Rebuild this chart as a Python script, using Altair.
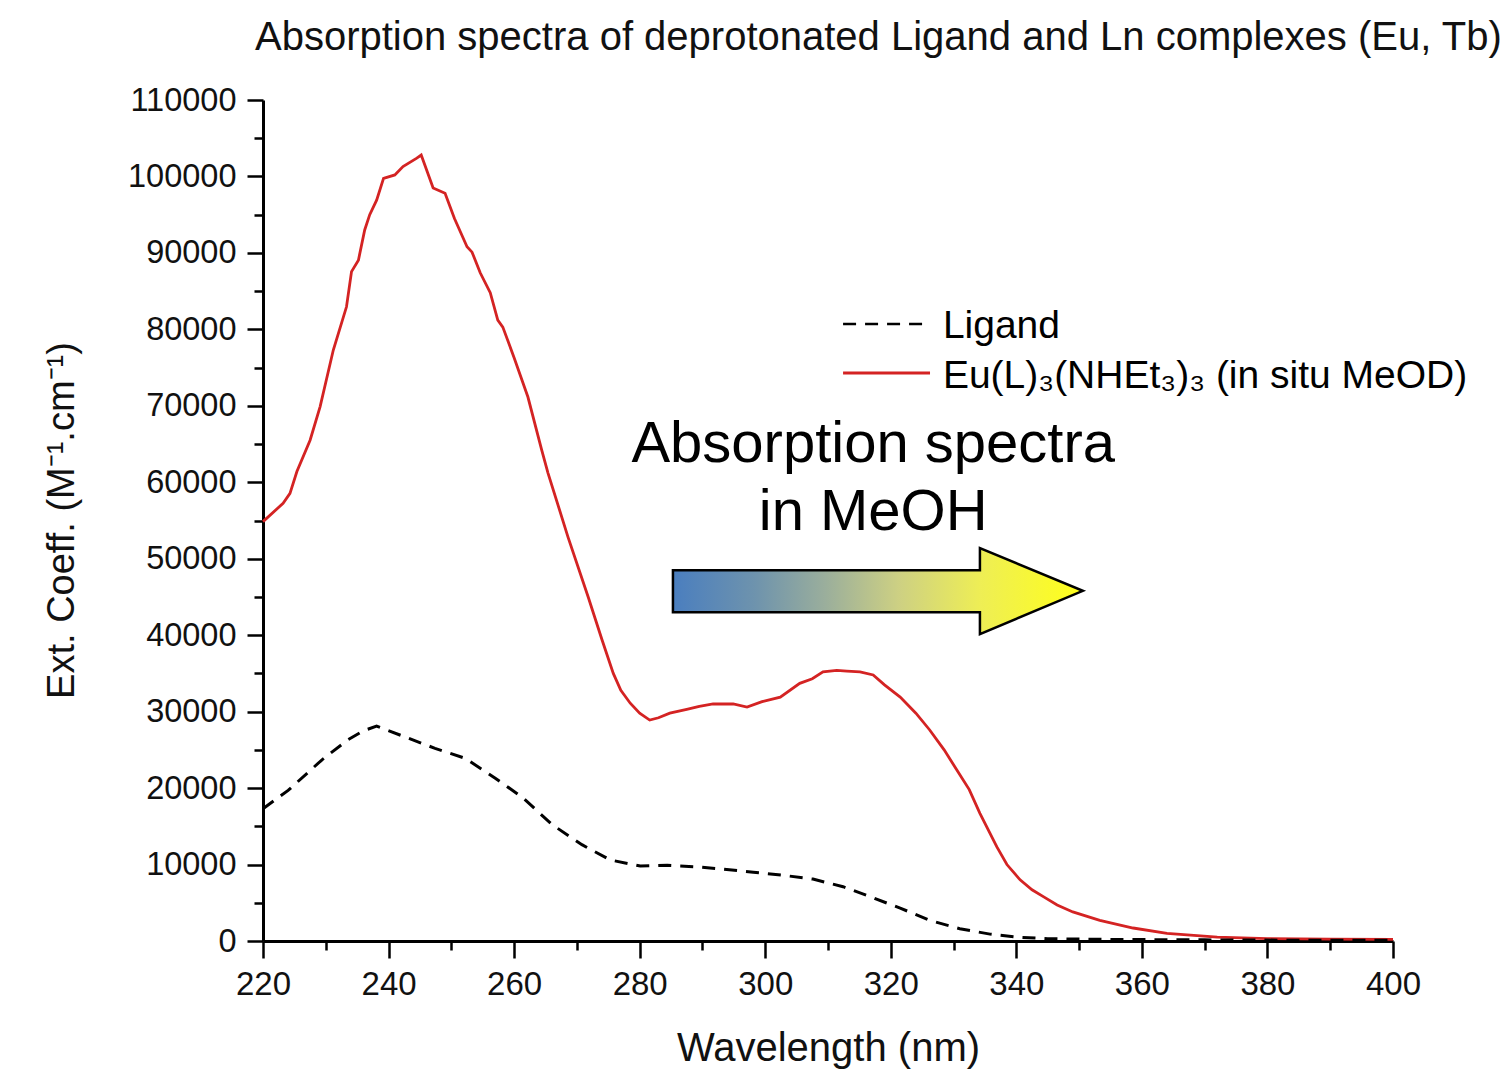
import altair as alt
import pandas as pd

# ---- data ----
eu_wl = [220.0, 223.2, 224.3, 225.4, 227.5, 229.1, 231.2, 233.3, 234.1, 235.2,
         236.2, 237.0, 238.1, 239.2, 241.0, 242.3, 244.5, 245.2, 247.1, 249.0,
         250.5, 252.5, 253.3, 254.6, 256.2, 257.4, 258.2, 260.0, 262.2, 264.4,
         265.4, 268.6, 271.8, 274.0, 275.8, 277.0, 278.5, 280.0, 281.6, 283.0,
         284.8, 287.5, 289.5, 291.7, 294.9, 297.1, 299.5, 302.4, 305.5, 307.5,
         309.2, 311.4, 313.0, 315.1, 317.2, 319.0, 321.5, 324.0, 326.2, 328.5,
         330.5, 332.5, 334.2, 336.9, 338.5, 340.6, 342.5, 344.3, 346.5, 349.0,
         353.3, 358.6, 364.0, 372.0, 380.0, 390.0, 400.0]
eu_val = [54850, 57250, 58550, 61400, 65500, 69900, 77300, 82950, 87550, 89050,
          93000, 95000, 96900, 99750, 100200, 101300, 102400, 102800, 98500, 97800,
          94500, 90800, 90100, 87400, 84800, 81200, 80300, 76300, 71150, 64200,
          61200, 52800, 45000, 39400, 35000, 32800, 31100, 29800, 28900, 29200,
          29800, 30300, 30700, 31000, 31000, 30600, 31300, 31900, 33700, 34300,
          35200, 35400, 35300, 35200, 34800, 33500, 31900, 29800, 27600, 25000,
          22400, 19800, 16700, 12300, 10000, 8000, 6700, 5800, 4700, 3800,
          2700, 1700, 1000, 500, 300, 250, 200]

lig_wl = [220.0, 224.0, 229.4, 233.5, 236.0, 238.1, 242.6, 247.4, 252.2, 257.0,
          261.3, 266.1, 270.8, 275.3, 280.1, 284.4, 289.1, 293.3, 298.1, 302.8,
          307.6, 312.4, 316.7, 321.5, 326.2, 331.0, 335.8, 340.1, 345.0, 355.0,
          370.0, 385.0, 400.0]
lig_val = [17300, 19700, 23700, 26300, 27500, 28100, 26700, 25200, 23900, 21300,
           18800, 15200, 12600, 10600, 9800, 9900, 9700, 9400, 9000, 8600,
           8100, 7100, 5800, 4300, 2700, 1600, 900, 500, 300, 200,
           150, 100, 100]

x_ticks = list(range(220, 401, 10))
y_ticks = list(range(0, 110001, 5000))

# annotation arrow (wavelength, top, bottom)
arrow_wl = [285.3, 334.2, 334.2, 350.6]
arrow_top = [48500, 48500, 51400, 45800]
arrow_bot = [43000, 43000, 40150, 45800]

note_lines = ["Absorption spectra", "in MeOH"]
note_wl = [317.2, 317.2]
note_val = [62650, 53760]

legend_labels = ["Ligand", "Eu(L)\u2083(NHEt\u2083)\u2083 (in situ MeOD)"]
legend_line_y = [80700, 74290]
legend_text_y = [78870, 72330]
legend_x0, legend_x1, legend_tx = 312.4, 326.25, 328.3

FONT = "Liberation Sans"
RED = "#d42323"
INK = "#111111"

eu_df = pd.DataFrame({"wl": eu_wl, "v": eu_val})
lig_df = pd.DataFrame({"wl": lig_wl, "v": lig_val})
arrow_df = pd.DataFrame({"wl": arrow_wl, "v": arrow_top, "v2": arrow_bot})
note_df = pd.DataFrame({"wl": note_wl, "v": note_val, "t": note_lines})

xs = alt.Scale(domain=[220, 400], nice=False, zero=False)
ys = alt.Scale(domain=[0, 110000], nice=False)

x_axis = alt.Axis(
    values=x_ticks, format="d", title="Wavelength (nm)",
    labelExpr="datum.value % 20 === 0 ? datum.label : ''",
    tickSize={"condition": {"test": "datum.value % 20 === 0", "value": 17}, "value": 9},
    labelOverlap=False, labelFlush=False, grid=False,
    domainColor="black", domainWidth=3, tickColor="black", tickWidth=2.5,
    labelFont=FONT, labelFontSize=33, labelColor=INK, labelPadding=10,
    titleFont=FONT, titleFontSize=40, titleFontWeight="normal", titleColor=INK,
    titleBaseline="alphabetic", titleY=119, titleX=565,
)
y_axis = alt.Axis(
    values=y_ticks, format="d", title="Ext. Coeff. (M\u207b\u00b9.cm\u207b\u00b9)",
    labelExpr="datum.value % 10000 === 0 ? datum.label : ''",
    tickSize={"condition": {"test": "datum.value % 10000 === 0", "value": 16}, "value": 9},
    labelOverlap=False, labelFlush=False, grid=False,
    domainColor="black", domainWidth=3, tickColor="black", tickWidth=2.5,
    labelFont=FONT, labelFontSize=32.5, labelColor=INK, labelPadding=11,
    titleFont=FONT, titleFontSize=38, titleFontWeight="normal", titleColor=INK,
    titleBaseline="alphabetic", titleX=-190, titleY=420, titleAngle=270,
)


def X(field):
    return alt.X(field, scale=xs, axis=x_axis)


def Y(field):
    return alt.Y(field, scale=ys, axis=y_axis)


eu_line = alt.Chart(eu_df).mark_line(color=RED, strokeWidth=2.8).encode(
    x=X("wl:Q"), y=Y("v:Q"),
)
lig_line = alt.Chart(lig_df).mark_line(color="black", strokeWidth=3, strokeDash=[13, 9]).encode(
    x=X("wl:Q"), y=Y("v:Q"),
)

grad = alt.Gradient(
    gradient="linear",
    stops=[
        alt.GradientStop(color="#4a7ebf", offset=0),
        alt.GradientStop(color="#6e93ad", offset=0.2),
        alt.GradientStop(color="#9aae9c", offset=0.37),
        alt.GradientStop(color="#cdd083", offset=0.55),
        alt.GradientStop(color="#eeee55", offset=0.75),
        alt.GradientStop(color="#ffff1a", offset=1),
    ],
    x1=0, x2=1, y1=0, y2=0,
)
arrow = alt.Chart(arrow_df).mark_area(fill=grad, stroke="black", strokeWidth=2.5, opacity=1).encode(
    x=X("wl:Q"), y=Y("v:Q"), y2="v2:Q",
)

notes = alt.Chart(note_df).mark_text(
    font=FONT, fontSize=58, align="center", baseline="alphabetic", color="black"
).encode(
    x=X("wl:Q"), y=Y("v:Q"), text="t:N",
)

leg_line_df = pd.DataFrame({
    "wl": [legend_x0, legend_x0], "wl2": [legend_x1, legend_x1],
    "v": legend_line_y,
})
leg_dash = alt.Chart(leg_line_df.iloc[[0]]).mark_rule(
    color="black", strokeWidth=2.5, strokeDash=[13, 9]
).encode(
    x=X("wl:Q"), x2="wl2:Q", y=Y("v:Q"),
)
leg_red = alt.Chart(leg_line_df.iloc[[1]]).mark_rule(
    color=RED, strokeWidth=2.8
).encode(
    x=X("wl:Q"), x2="wl2:Q", y=Y("v:Q"),
)
leg_text_df = pd.DataFrame({"wl": [legend_tx, legend_tx], "v": legend_text_y, "t": legend_labels})
leg_text = alt.Chart(leg_text_df).mark_text(
    font=FONT, fontSize=39, align="left", baseline="alphabetic", color="black"
).encode(
    x=X("wl:Q"), y=Y("v:Q"), text="t:N",
)

chart = alt.layer(eu_line, lig_line, arrow, notes, leg_dash, leg_red, leg_text).properties(
    width=1130, height=841,
    title=alt.TitleParams(
        "Absorption spectra of deprotonated Ligand and Ln complexes (Eu, Tb)",
        font=FONT, fontSize=40, fontWeight="normal", color=INK,
        anchor="start", frame="group", dx=-8, offset=0, dy=6, baseline="alphabetic",
    ),
    autosize=alt.AutoSizeParams(type="none"),
    padding={"left": 263, "top": 100, "right": 116, "bottom": 129},
    background="white",
).configure_view(stroke=None)

chart.save("out.html", embed_options={"renderer": "svg", "actions": False})
